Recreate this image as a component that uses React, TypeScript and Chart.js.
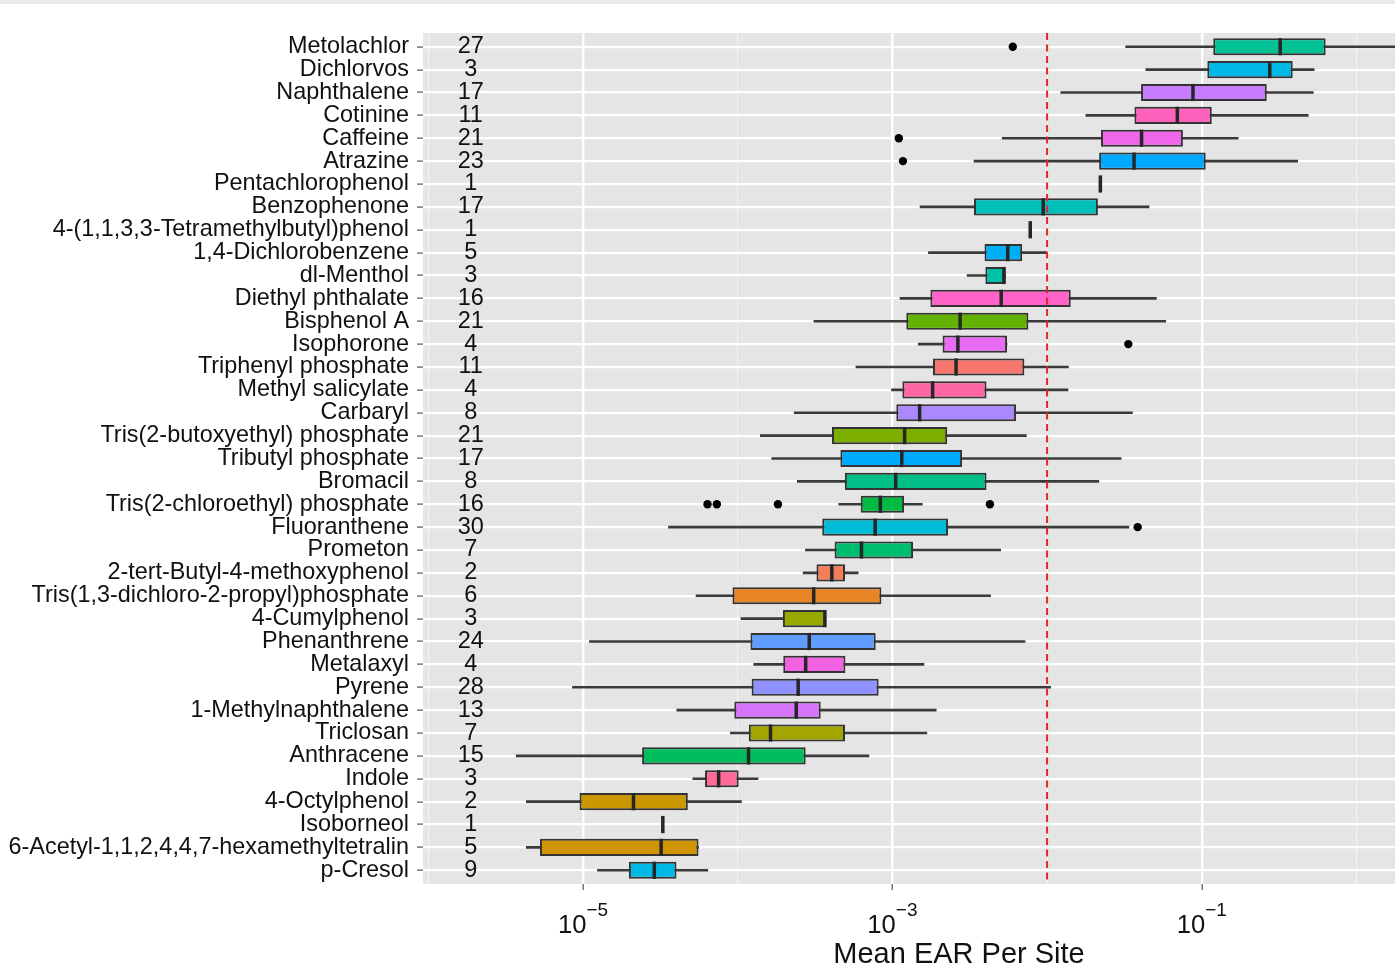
import React, { useEffect, useRef } from "react";
import { Chart, registerables } from "chart.js";

Chart.register(...registerables);

// ---------------- data ----------------
const categories = [
  "Metolachlor",
  "Dichlorvos",
  "Naphthalene",
  "Cotinine",
  "Caffeine",
  "Atrazine",
  "Pentachlorophenol",
  "Benzophenone",
  "4-(1,1,3,3-Tetramethylbutyl)phenol",
  "1,4-Dichlorobenzene",
  "dl-Menthol",
  "Diethyl phthalate",
  "Bisphenol A",
  "Isophorone",
  "Triphenyl phosphate",
  "Methyl salicylate",
  "Carbaryl",
  "Tris(2-butoxyethyl) phosphate",
  "Tributyl phosphate",
  "Bromacil",
  "Tris(2-chloroethyl) phosphate",
  "Fluoranthene",
  "Prometon",
  "2-tert-Butyl-4-methoxyphenol",
  "Tris(1,3-dichloro-2-propyl)phosphate",
  "4-Cumylphenol",
  "Phenanthrene",
  "Metalaxyl",
  "Pyrene",
  "1-Methylnaphthalene",
  "Triclosan",
  "Anthracene",
  "Indole",
  "4-Octylphenol",
  "Isoborneol",
  "6-Acetyl-1,1,2,4,4,7-hexamethyltetralin",
  "p-Cresol",
];

const counts = [27, 3, 17, 11, 21, 23, 1, 17, 1, 5, 3, 16, 21, 4, 11, 4, 8, 21, 17, 8, 16, 30, 7, 2, 6, 3, 24, 4, 28, 13, 7, 15, 3, 2, 1, 5, 9];

const whiskerLow = [
  0.0322, 0.0435, 0.01225, 0.0178, 0.00513, 0.00337, 0.0221, 0.00151, 0.00778, 0.00171,
  0.00304, 0.00112, 0.000311, 0.00147, 0.000581, 0.000986, 0.000232, 0.00014, 0.000166, 0.000243,
  0.00045, 0.0000357, 0.000274, 0.000265, 0.0000538, 0.000105, 0.000011, 0.000127, 0.00000855, 0.0000404,
  0.0000897, 0.0000037, 0.0000513, 0.0000043, 0.0000328, 0.0000043, 0.0000124,
];
const q1 = [
  0.1186, 0.1086, 0.0405, 0.0367, 0.0223, 0.0217, 0.0221, 0.00337, 0.00778, 0.00394,
  0.00399, 0.00176, 0.00123, 0.00211, 0.00183, 0.00116, 0.00106, 0.000407, 0.000461, 0.000493,
  0.000624, 0.000352, 0.000423, 0.000323, 0.0000925, 0.000196, 0.000121, 0.000197, 0.000123, 0.0000951,
  0.000118, 0.0000241, 0.0000615, 0.0000095, 0.0000328, 0.00000527, 0.0000198,
];
const medians = [
  0.321, 0.275, 0.0877, 0.0695, 0.0408, 0.0365, 0.0221, 0.00944, 0.00778, 0.00557,
  0.00526, 0.00505, 0.00274, 0.00265, 0.00258, 0.00182, 0.0015, 0.0012, 0.00115, 0.00105,
  0.000836, 0.000774, 0.000631, 0.000406, 0.00031, 0.000366, 0.00029, 0.000275, 0.000246, 0.000239,
  0.000163, 0.0001175, 0.0000753, 0.0000212, 0.0000328, 0.000032, 0.0000289,
];
const q3 = [
  0.632, 0.387, 0.263, 0.116, 0.0755, 0.106, 0.0221, 0.0213, 0.00778, 0.0069,
  0.0054, 0.01422, 0.00757, 0.00551, 0.00713, 0.00406, 0.0063, 0.00226, 0.00282, 0.00406,
  0.00119, 0.00229, 0.00136, 0.000494, 0.000849, 0.000372, 0.00078, 0.000497, 0.000815, 0.000344,
  0.000494, 0.000275, 0.0001014, 0.0000476, 0.0000328, 0.0000558, 0.0000402,
];
const whiskerHigh = [
  2.5, 0.533, 0.526, 0.488, 0.172, 0.417, 0.0221, 0.0456, 0.00778, 0.00988,
  0.0054, 0.0509, 0.0585, 0.00551, 0.01374, 0.01365, 0.0356, 0.00735, 0.0301, 0.0216,
  0.00156, 0.0338, 0.00501, 0.000601, 0.00431, 0.000372, 0.0072, 0.0016, 0.01054, 0.00192,
  0.00167, 0.000705, 0.0001352, 0.0001057, 0.0000328, 0.0000558, 0.0000641,
];

const outlierRows = [
  "Metolachlor",
  "Caffeine",
  "Atrazine",
  "Isophorone",
  "Tris(2-chloroethyl) phosphate",
  "Tris(2-chloroethyl) phosphate",
  "Tris(2-chloroethyl) phosphate",
  "Tris(2-chloroethyl) phosphate",
  "Fluoranthene",
];
const outlierValues = [0.006, 0.0011, 0.00117, 0.0335, 0.0000638, 0.0000733, 0.000182, 0.00427, 0.0385];

const threshold = 0.01;
const countPosition = 1.88e-6;
const majorTicks = [1e-5, 1e-3, 1e-1];
const minorTicks = [1e-6, 1e-4, 1e-2, 1];
const xMin = 9.24e-7;
const xMax = 7.86;
const xTitle = "Mean EAR Per Site";

// ---------------- styles ----------------
const boxColors = [
  "#00C094", "#00B8E5", "#C77CFF", "#FF62BC", "#F066EA", "#00A9FF", "#00BFC4", "#00BFB8", "#00C0A8", "#00B0F6",
  "#00C0A8", "#FF62C8", "#64B200", "#E76BF3", "#F8766D", "#FF67A4", "#AC88FF", "#7CAE00", "#00ABFD", "#00C087",
  "#00BA42", "#00BCD6", "#00BE70", "#F47D5A", "#E88526", "#95A900", "#619CFF", "#F263E2", "#8F91FF", "#D675FA",
  "#A3A500", "#00BE5E", "#FF6A98", "#CB9700", "#CB9700", "#D09400", "#00B8E4",
];
const FONT = '"Liberation Sans", Arial, Helvetica, sans-serif';

export default function App() {
  const ref = useRef<HTMLCanvasElement>(null);

  useEffect(() => {
    const canvas = ref.current;
    if (!canvas) return;
    const rows = categories.map((_, i) => i);

    const decor = {
      id: "ggDecor",
      beforeDraw(chart: any) {
        const { ctx, chartArea: a } = chart;
        ctx.save();
        ctx.fillStyle = "#ffffff";
        ctx.fillRect(0, 0, chart.width, chart.height);
        ctx.fillStyle = "#ebebeb";
        ctx.fillRect(0, 0, chart.width, 4);
        ctx.fillStyle = "#e5e5e5";
        ctx.fillRect(a.left, a.top, a.right - a.left, a.bottom - a.top);
        ctx.restore();
      },
      afterDatasetsDraw(chart: any) {
        const { ctx, chartArea: a, scales } = chart;
        ctx.save();
        // counts column
        ctx.fillStyle = "#111111";
        ctx.font = `23.5px ${FONT}`;
        ctx.textAlign = "center";
        ctx.textBaseline = "middle";
        const cx = scales.x.getPixelForValue(countPosition);
        counts.forEach((n, i) => {
          ctx.fillText(String(n), cx, scales.y.getPixelForValue(i));
        });
        // threshold line
        const tx = scales.x.getPixelForValue(threshold);
        ctx.beginPath();
        ctx.rect(a.left, a.top, a.right - a.left, a.bottom - a.top);
        ctx.clip();
        ctx.strokeStyle = "#e8202f";
        ctx.lineWidth = 2;
        ctx.setLineDash([7, 4.5]);
        ctx.beginPath();
        ctx.moveTo(tx, a.top);
        ctx.lineTo(tx, a.bottom);
        ctx.stroke();
        ctx.restore();
      },
      afterDraw(chart: any) {
        const { ctx, chartArea: a, scales } = chart;
        const b = a.bottom;
        ctx.save();
        ctx.fillStyle = "#111111";
        ctx.textBaseline = "alphabetic";
        ctx.textAlign = "left";
        majorTicks.forEach((v) => {
          const px = scales.x.getPixelForValue(v);
          const e = Math.round(Math.log10(v));
          const base = "10";
          const sup = (e < 0 ? "\u2212" : "") + String(Math.abs(e));
          ctx.font = `25.6px ${FONT}`;
          const wb = ctx.measureText(base).width;
          ctx.font = `19px ${FONT}`;
          const ws = ctx.measureText(sup).width;
          const x0 = px - (wb + ws) / 2;
          ctx.font = `25.6px ${FONT}`;
          ctx.fillText(base, x0, b + 48.5);
          ctx.font = `19px ${FONT}`;
          ctx.fillText(sup, x0 + wb, b + 31.7);
        });
        ctx.font = `29px ${FONT}`;
        ctx.textAlign = "center";
        ctx.fillText(xTitle, (a.left + a.right) / 2, b + 79);
        ctx.restore();
      },
    };

    const isMajor = (v: any) => majorTicks.includes(v);
    const gridValues = [...minorTicks, ...majorTicks].sort((p, q) => p - q);

    const chart = new Chart(canvas, {
      type: "bar",
      data: {
        datasets: [
          {
            type: "scatter",
            label: "outliers",
            data: outlierValues.map((v, k) => ({ x: v, y: categories.indexOf(outlierRows[k]) })),
            pointRadius: 4.2,
            pointHoverRadius: 4.2,
            pointBackgroundColor: "#000000",
            pointBorderWidth: 0,
          } as any,
          {
            type: "scatter",
            label: "median",
            data: medians.map((m, i) => ({ x: m, y: i })),
            pointStyle: "line",
            rotation: 90,
            pointRadius: 8.6,
            pointHoverRadius: 8.6,
            borderColor: "#262626",
            pointBorderColor: "#262626",
            pointBorderWidth: 3.5,
            pointHoverBorderWidth: 3.5,
          } as any,
          {
            type: "bar",
            label: "box",
            data: rows.map((i) => ({ x: [q1[i], q3[i]], y: i })),
            backgroundColor: boxColors,
            borderColor: "#333333",
            borderWidth: 2,
            borderSkipped: false,
            grouped: false,
            barPercentage: 0.75,
            categoryPercentage: 1,
          } as any,
          {
            type: "bar",
            label: "whisker",
            data: rows.map((i) => ({ x: [whiskerLow[i], whiskerHigh[i]], y: i })),
            backgroundColor: "#3a3a3a",
            borderWidth: 0,
            grouped: false,
            maxBarThickness: 2,
            barPercentage: 1,
            categoryPercentage: 1,
          } as any,
        ],
      },
      options: {
        indexAxis: "y",
        responsive: false,
        animation: false,
        events: [],
        layout: { autoPadding: false, padding: { top: 33, left: 0, right: 5, bottom: 0 } },
        plugins: {
          legend: { display: false },
          tooltip: { enabled: false },
        },
        scales: {
          x: {
            type: "logarithmic",
            position: "bottom",
            min: xMin,
            max: xMax,
            offset: false,
            afterBuildTicks: (s: any) => {
              s.ticks = gridValues.map((v) => ({ value: v }));
            },
            afterFit: (s: any) => {
              s.height = 92;
            },
            ticks: { display: false },
            grid: {
              offset: false,
              color: (c: any) => (isMajor(c.tick?.value) ? "#ffffff" : "#f4f4f4"),
              lineWidth: (c: any) => (isMajor(c.tick?.value) ? 2.4 : 1.1),
              drawTicks: true,
              tickLength: 6,
              tickWidth: 1.2,
              tickColor: (c: any) => (isMajor(c.tick?.value) ? "#555555" : "rgba(0,0,0,0)"),
            },
            border: { display: false },
          },
          y: {
            type: "linear",
            reverse: true,
            offset: false,
            min: -0.6,
            max: categories.length - 0.4,
            afterBuildTicks: (s: any) => {
              s.ticks = categories.map((_, i) => ({ value: i }));
            },
            afterFit: (s: any) => {
              s.width = 423;
            },
            ticks: {
              autoSkip: false,
              callback: (v: any) => categories[v] ?? "",
              font: { family: FONT, size: 23.4, lineHeight: 1 },
              color: "#111111",
              padding: 8,
            },
            grid: {
              offset: false,
              color: "#ffffff",
              lineWidth: 2.2,
              drawTicks: true,
              tickLength: 6,
              tickWidth: 1.2,
              tickColor: "#555555",
            },
            border: { display: false },
          },
        },
      } as any,
      plugins: [decor],
    });

    return () => chart.destroy();
  }, []);

  return (
    <div
      style={{
        position: "absolute",
        left: 0,
        top: 0,
        width: 1395,
        height: 976,
        overflow: "hidden",
        background: "#ffffff",
      }}
    >
      <canvas ref={ref} width={1500} height={976} style={{ display: "block", width: 1500, height: 976 }} />
    </div>
  );
}
